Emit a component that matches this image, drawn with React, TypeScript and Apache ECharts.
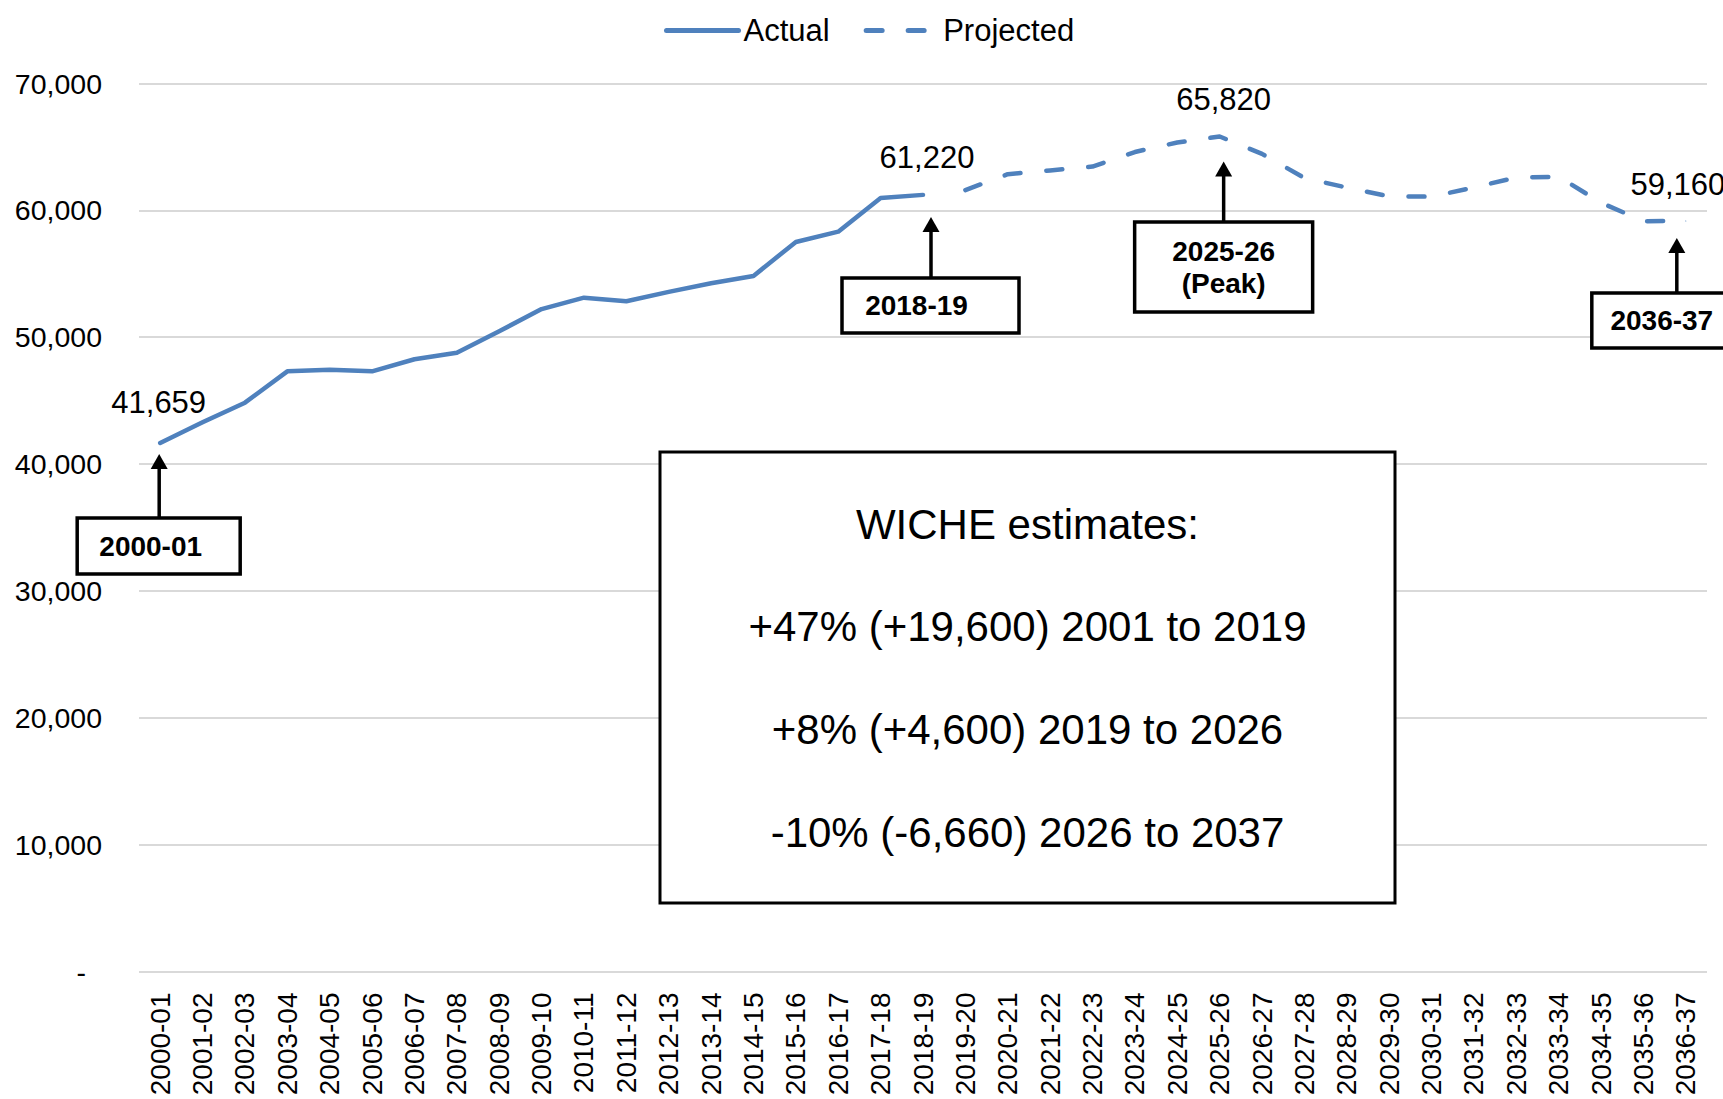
import React, { useEffect, useRef } from 'react';
import * as echarts from 'echarts';

// ---------- data ----------
const categories = [
  '2000-01', '2001-02', '2002-03', '2003-04', '2004-05', '2005-06', '2006-07', '2007-08',
  '2008-09', '2009-10', '2010-11', '2011-12', '2012-13', '2013-14', '2014-15', '2015-16',
  '2016-17', '2017-18', '2018-19', '2019-20', '2020-21', '2021-22', '2022-23', '2023-24',
  '2024-25', '2025-26', '2026-27', '2027-28', '2028-29', '2029-30', '2030-31', '2031-32',
  '2032-33', '2033-34', '2034-35', '2035-36', '2036-37',
];

// Actual: 2000-01 .. 2018-19
const actualValues = [
  41659, 43290, 44840, 47310, 47440, 47310, 48260, 48780, 50470, 52220,
  53120, 52830, 53570, 54250, 54830, 57510, 58320, 60980, 61220,
];

// Projected: starts at 2019-20
const projectedStart = '2019-20';
const projectedValues = [
  61600, 62850, 63150, 63450, 64600, 65350, 65820, 64450, 62550, 61800,
  61100, 61080, 61800, 62600, 62650, 60600, 59150, 59160,
];

const seriesNames = ['Actual', 'Projected'];

const yMin = 0;
const yMax = 70000;
const yInterval = 10000;

// points that carry a value label
const valueLabels = [
  { series: 0, category: '2000-01' },
  { series: 0, category: '2018-19' },
  { series: 1, category: '2025-26' },
  { series: 1, category: '2036-37' },
];

// callout boxes with arrows, anchored to data points
const callouts = [
  { series: 0, category: '2000-01', lines: ['2000-01'] },
  { series: 0, category: '2018-19', lines: ['2018-19'] },
  { series: 1, category: '2025-26', lines: ['2025-26', '(Peak)'] },
  { series: 1, category: '2036-37', lines: ['2036-37'] },
];

const summaryLines = [
  'WICHE estimates:',
  '+47% (+19,600) 2001 to 2019',
  '+8% (+4,600) 2019 to 2026',
  '-10% (-6,660) 2026 to 2037',
];

// ---------- layout / style (kept apart from data) ----------
const FONT = '"Liberation Sans", Arial, Helvetica, sans-serif';
const BLUE = '#4F81BD';
const LINE_W = 4.5;

const labelLayout = [
  { distance: 25, dx: -1.5 },
  { distance: 21, dx: 4 },
  { distance: 21, dx: 4 },
  { distance: 21, dx: -8 },
];

const calloutLayout = [
  { arrowDx: -1, tipGap: 11, boxGap: 75, boxW: 163, boxH: 56, boxDx: -1.5, textDx: -8 },
  { arrowDx: 8, tipGap: 22, boxGap: 83, boxW: 177, boxH: 55, boxDx: 7.5, textDx: -14 },
  { arrowDx: 4, tipGap: 25, boxGap: 85.5, boxW: 178, boxH: 90, boxDx: 4, textDx: 0 },
  { arrowDx: -9, tipGap: 17, boxGap: 72, boxW: 140, boxH: 55, boxDx: -24, textDx: 0 },
];

const summaryBox = { x: 660, y: 452, w: 735, h: 451, firstLine: 72, lineStep: 102.7 };

export default function App() {
  const ref = useRef<HTMLDivElement>(null);

  useEffect(() => {
    const el = ref.current;
    if (!el) return;
    const chart = echarts.init(el, null, { renderer: 'svg' });

    const projIdx = categories.indexOf(projectedStart);
    const actualData = categories.map((_, i) => (i < actualValues.length ? actualValues[i] : null));
    const projectedData = categories.map((_, i) =>
      i >= projIdx ? projectedValues[i - projIdx] : null
    );
    const seriesData = [actualData, projectedData];

    const markData = (s: number) =>
      valueLabels
        .map((l, k) => ({ l, k }))
        .filter(({ l }) => l.series === s)
        .map(({ l, k }) => {
          const idx = categories.indexOf(l.category);
          const v = seriesData[s][idx] as number;
          return {
            coord: [idx, v],
            value: v,
            label: { distance: labelLayout[k].distance, offset: [labelLayout[k].dx, 0] },
          };
        });

    const markPointBase = {
      symbol: 'circle',
      symbolSize: 1,
      itemStyle: { color: BLUE },
      silent: true,
      label: {
        show: true,
        position: 'top',
        color: '#000',
        fontSize: 31,
        fontFamily: FONT,
        formatter: (p: any) => Number(p.value).toLocaleString('en-US'),
      },
    };

    const option: any = {
      animation: false,
      backgroundColor: '#fff',
      textStyle: { fontFamily: FONT },
      legend: {
        data: seriesNames,
        left: 659,
        top: 10,
        itemWidth: 72,
        itemHeight: 20,
        itemGap: 34,
        itemStyle: { opacity: 0 },
        lineStyle: { width: 5, cap: 'round' },
        textStyle: { fontSize: 31, color: '#000', fontFamily: FONT },
      },
      grid: { left: 139, right: 16, top: 83.5, bottom: 127.5, containLabel: false },
      xAxis: {
        type: 'category',
        data: categories,
        boundaryGap: true,
        axisLine: { show: false },
        axisTick: { show: false },
        splitLine: { show: false },
        axisLabel: {
          rotate: 90,
          interval: 0,
          margin: 21,
          fontSize: 28,
          color: '#000',
          fontFamily: FONT,
        },
      },
      yAxis: {
        type: 'value',
        min: yMin,
        max: yMax,
        interval: yInterval,
        axisLine: { show: false },
        axisTick: { show: false },
        splitLine: { show: true, lineStyle: { color: '#d9d9d9', width: 2 } },
        axisLabel: {
          margin: 37,
          fontSize: 28.5,
          color: '#000',
          fontFamily: FONT,
          formatter: (v: number) => (v === 0 ? '{d|-}' : v.toLocaleString('en-US')),
          rich: {
            d: { padding: [0, 16, 0, 0], fontSize: 28.5, color: '#000', fontFamily: FONT },
          },
        },
      },
      series: [
        {
          name: seriesNames[0],
          type: 'line',
          data: actualData,
          symbol: 'none',
          connectNulls: false,
          lineStyle: { color: BLUE, width: LINE_W, cap: 'round', join: 'round' },
          itemStyle: { color: BLUE },
          markPoint: { ...markPointBase, data: markData(0) },
          z: 3,
        },
        {
          name: seriesNames[1],
          type: 'line',
          data: projectedData,
          symbol: 'none',
          connectNulls: false,
          lineStyle: { color: BLUE, width: LINE_W, type: [16, 26], cap: 'round', join: 'round' },
          itemStyle: { color: BLUE },
          markPoint: { ...markPointBase, data: markData(1) },
          z: 3,
        },
      ],
    };

    chart.setOption(option);

    // ---- annotations ----
    const graphics: any[] = [];
    callouts.forEach((c, k) => {
      const lay = calloutLayout[k];
      const idx = categories.indexOf(c.category);
      const v = seriesData[c.series][idx] as number;
      const pt = chart.convertToPixel({ gridIndex: 0 }, [idx, v]) as number[];
      const px = pt[0];
      const py = pt[1];
      const ax = px + lay.arrowDx;
      const tip = py + lay.tipGap;
      const boxTop = py + lay.boxGap;
      const cx = px + lay.boxDx;
      graphics.push({
        type: 'line',
        z: 100,
        shape: { x1: ax, y1: tip + 10, x2: ax, y2: boxTop },
        style: { stroke: '#000', lineWidth: 3.5 },
      });
      graphics.push({
        type: 'polygon',
        z: 100,
        shape: { points: [[ax, tip], [ax - 8.5, tip + 15], [ax + 8.5, tip + 15]] },
        style: { fill: '#000' },
      });
      graphics.push({
        type: 'rect',
        z: 101,
        shape: { x: cx - lay.boxW / 2, y: boxTop, width: lay.boxW, height: lay.boxH },
        style: { fill: '#fff', stroke: '#000', lineWidth: 3.5 },
      });
      graphics.push({
        type: 'text',
        z: 102,
        x: cx + lay.textDx,
        y: boxTop + lay.boxH / 2,
        style: {
          text: c.lines.join('\n'),
          fill: '#000',
          fontSize: 28,
          fontWeight: 'bold',
          fontFamily: FONT,
          lineHeight: 32,
          align: 'center',
          verticalAlign: 'middle',
        },
      });
    });

    graphics.push({
      type: 'rect',
      z: 101,
      shape: { x: summaryBox.x, y: summaryBox.y, width: summaryBox.w, height: summaryBox.h },
      style: { fill: '#fff', stroke: '#000', lineWidth: 3 },
    });
    summaryLines.forEach((t, i) => {
      graphics.push({
        type: 'text',
        z: 102,
        x: summaryBox.x + summaryBox.w / 2,
        y: summaryBox.y + summaryBox.firstLine + i * summaryBox.lineStep,
        style: {
          text: t,
          fill: '#000',
          fontSize: 42,
          fontFamily: FONT,
          align: 'center',
          verticalAlign: 'middle',
        },
      });
    });

    chart.setOption({ graphic: graphics });

    return () => {
      chart.dispose();
    };
  }, []);

  return (
    <div
      ref={ref}
      style={{ position: 'absolute', left: 0, top: 0, width: 1723, height: 1099 }}
    />
  );
}
